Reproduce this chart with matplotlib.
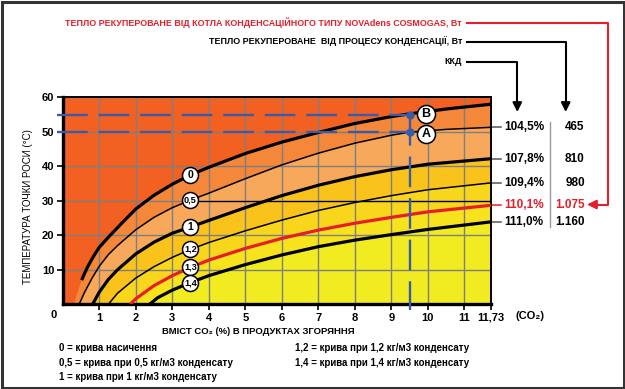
import numpy as np
import matplotlib.pyplot as plt
from matplotlib import font_manager
from matplotlib.patches import Rectangle

# ---------------------------------------------------------------------------
# Fonts: condensed face for the captions if there is one, plain sans otherwise
# ---------------------------------------------------------------------------
_names = {f.name for f in font_manager.fontManager.ttflist}
NARROW = next((n for n in ["Liberation Sans Narrow", "DejaVu Sans Condensed",
                           "Liberation Sans"] if n in _names), "DejaVu Sans")
SANS = "Liberation Sans" if "Liberation Sans" in _names else "DejaVu Sans"
plt.rcParams["font.family"] = [SANS, "DejaVu Sans"]
NARROW_F = [NARROW, "DejaVu Sans"]

# ---------------------------------------------------------------------------
# Data
# ---------------------------------------------------------------------------
CO2_MAX = 11.73
SAT_FOOT_X = 0.30          # saturation zone reaches the x axis here (fill only)

curve_names = ["0", "0,5", "1", "1,2", "1,3", "1,4"]

x_c0 = [0.52, 0.6, 0.7, 0.85, 1.0, 1.3, 1.6, 2.0, 2.5, 3.0, 3.5, 4.0, 5.0, 6.0, 7.0, 8.0, 9.0, 9.5, 10.5, 11.73]
y_c0 = [7.0, 9.0, 11.2, 14.0, 16.5, 20.0, 23.3, 27.6, 31.6, 34.8, 37.5, 39.7, 43.7, 47.0, 49.8, 52.4, 54.4, 55.2, 56.6, 58.0]

x_c05 = [0.45, 0.6, 0.8, 1.0, 1.25, 1.5, 2.0, 2.5, 3.0, 3.5, 4.0, 5.0, 6.0, 7.0, 8.0, 9.0, 9.5, 10.5, 11.73]
y_c05 = [0.0, 3.5, 7.5, 11.0, 14.4, 17.0, 21.6, 25.2, 28.0, 30.2, 32.2, 36.4, 40.4, 43.8, 46.7, 49.0, 49.9, 50.7, 51.3]

x_c1 = [0.82, 1.0, 1.25, 1.5, 2.0, 2.5, 3.0, 3.5, 4.0, 5.0, 6.0, 7.0, 8.0, 9.0, 10.0, 11.73]
y_c1 = [0.0, 3.5, 7.2, 10.0, 14.6, 18.0, 20.6, 22.4, 24.3, 28.0, 31.5, 34.5, 37.0, 39.0, 40.6, 42.2]

x_c12 = [1.25, 1.5, 2.0, 2.5, 3.0, 3.5, 4.0, 5.0, 6.0, 7.0, 8.0, 9.0, 10.0, 11.73]
y_c12 = [0.0, 3.2, 7.6, 10.9, 13.6, 15.9, 17.9, 21.3, 24.4, 27.2, 29.5, 31.5, 33.2, 35.2]

x_c13 = [1.85, 2.0, 2.5, 3.0, 3.5, 4.0, 5.0, 6.0, 7.0, 8.0, 9.0, 10.0, 11.73]
y_c13 = [0.0, 1.6, 5.4, 8.3, 10.7, 12.8, 16.2, 19.1, 21.5, 23.5, 25.2, 26.8, 28.7]

x_c14 = [2.38, 2.6, 3.0, 3.5, 4.0, 5.0, 6.0, 7.0, 8.0, 9.0, 10.0, 11.73]
y_c14 = [0.0, 1.9, 4.1, 6.3, 8.3, 11.5, 14.3, 16.7, 18.6, 20.2, 21.7, 23.9]

kkd = ["104,5%", "107,8%", "109,4%", "110,1%", "111,0%"]
heat_w = ["465", "810", "980", "1.075", "1.160"]

point_co2 = 9.5
point_a = 50
point_b = 55

x_ticks = [1, 2, 3, 4, 5, 6, 7, 8, 9, 10, 11, 11.73]
x_ticklabels = ["1", "2", "3", "4", "5", "6", "7", "8", "9", "10", "11", "11,73"]
y_ticks = [10, 20, 30, 40, 50, 60]

legend_left = ["0 = крива насичення",
               "0,5 = крива при 0,5 кг/м3 конденсату",
               "1 = крива при 1 кг/м3 конденсату"]
legend_right = ["1,2 = крива при 1,2 кг/м3 конденсату",
                "1,4 = крива при 1,4 кг/м3 конденсату"]

# ---------------------------------------------------------------------------
# Styles
# ---------------------------------------------------------------------------
RED = "#E41E2B"
BLUE = "#3A5BA8"
zone_colors = ["#F5873A", "#F7A85A", "#F9C31B", "#F8D61B", "#F6E21D", "#F0EC21"]
TOP_COLOR = "#F26122"
curve_lw = [2.3, 1.1, 2.3, 1.1, 2.3, 2.3]
curve_col = ["black", "black", "black", "black", RED, "black"]

curves = [(x_c0, y_c0), (x_c05, y_c05), (x_c1, y_c1),
          (x_c12, y_c12), (x_c13, y_c13), (x_c14, y_c14)]

fig = plt.figure(figsize=(6.25, 3.89), dpi=100)
ax = fig.add_axes([0.1003, 0.2177, 0.6853, 0.5322])
ax.set_xlim(0, CO2_MAX)
ax.set_ylim(0, 60)
ax.set_facecolor(TOP_COLOR)

# coloured zones: each zone fills everything below its curve
for i, (xs, ys) in enumerate(curves):
    fx = list(xs) + [CO2_MAX]
    fy = list(ys) + [0]
    if i == 0:
        fx = [SAT_FOOT_X] + fx
        fy = [0] + fy
    ax.fill(fx, fy, color=zone_colors[i], lw=0, zorder=1)

ax.set_axisbelow("line")
ax.grid(True, color="#7F7F7F", lw=1.0)

# curves
for (xs, ys), lw, col in zip(curves, curve_lw, curve_col):
    ax.plot(xs, ys, color=col, lw=lw, solid_capstyle="butt",
            solid_joinstyle="round", zorder=3)

# thin reference line at 30 °C
ax.plot([3.5, CO2_MAX], [30, 30], color="black", lw=0.9, zorder=3)

# curve labels
for (xs, ys), name in zip(curves, curve_names):
    yl = np.interp(3.5, xs, ys)
    ax.plot(3.5, yl, "o", ms=11.5, mfc="white", mec="black", mew=1.1, zorder=6)
    ax.text(3.5, yl, name, ha="center", va="center", fontsize=6.6 if "," in name else 7.5,
            fontweight="bold", family=NARROW_F, zorder=7)

# dashed construction lines A / B
dash = (0, (13, 4.6))
for yv in (point_b, point_a):
    ax.plot([-0.15, point_co2], [yv, yv], color=BLUE, lw=1.7, ls=dash,
            clip_on=False, zorder=4)
ax.plot([point_co2, point_co2], [point_b, -1.7], color=BLUE, lw=1.7, ls=dash,
        clip_on=False, zorder=4)
ax.plot([point_co2, point_co2], [point_b, point_a], "o", color=BLUE, ms=5, zorder=5)
for yv, lab in ((point_b + 0.3, "B"), (point_a - 0.6, "A")):
    ax.plot(point_co2 + 0.45, yv, "o", ms=13, mfc="white", mec="black", mew=1.1, zorder=6)
    ax.text(point_co2 + 0.45, yv, lab, ha="center", va="center", fontsize=9,
            fontweight="bold", zorder=7)

# right-hand value table
ends = [c[1][-1] for c in curves[1:]]
for i, (yv, k, h) in enumerate(zip(ends, kkd, heat_w)):
    col = RED if i == 3 else "black"
    ax.plot([CO2_MAX, 12.0], [yv, yv], color=RED if i == 3 else "#555555", lw=1.1,
            clip_on=False)
    ax.text(12.08, yv, k, ha="left", va="center", fontsize=8.5, fontweight="bold",
            color=col, clip_on=False)
    ax.text(14.30, yv, h, ha="right", va="center", fontsize=8.5, fontweight="bold",
            color=col, clip_on=False)
ax.plot([13.34, 13.34], [52.9, 22.5], color="#999999", lw=1.0, clip_on=False)

# axes styling
for side in ("left", "bottom"):
    ax.spines[side].set_linewidth(2.4)
for side in ("top", "right"):
    ax.spines[side].set_linewidth(1.4)
ax.set_xticks(x_ticks, x_ticklabels, fontsize=8, fontweight="bold")
ax.set_yticks(y_ticks, [str(v) for v in y_ticks], fontsize=8, fontweight="bold")
ax.tick_params(direction="out", length=4, width=1.2, pad=2)

ax.set_xlabel("ВМІСТ CO₂ (%) В ПРОДУКТАХ ЗГОРЯННЯ", fontsize=6.8, fontweight="bold",
              family=NARROW_F, va="center")
ax.xaxis.set_label_coords(0.456, -0.129)
ax.set_ylabel("ТЕМПЕРАТУРА ТОЧКИ РОСИ (°C)", fontsize=7.0, family=NARROW_F, va="center")
ax.yaxis.set_label_coords(-0.081, 0.47)

# ---------------------------------------------------------------------------
# Overlay in pixel coordinates: headers, leader arrows, legend, frame
# ---------------------------------------------------------------------------
ov = fig.add_axes([0, 0, 1, 1], zorder=5)
ov.set_xlim(0, 625)
ov.set_ylim(389, 0)
ov.axis("off")
ov.patch.set_alpha(0)

hdr = dict(ha="right", va="center", fontsize=6.4, fontweight="bold", family=NARROW_F)
ov.text(462, 22.5, "ТЕПЛО РЕКУПЕРОВАНЕ ВІД КОТЛА КОНДЕНСАЦІЙНОГО ТИПУ NOVAdens COSMOGAS, Вт",
        color=RED, **hdr)
ov.text(462, 41.5, "ТЕПЛО РЕКУПЕРОВАНЕ  ВІД ПРОЦЕСУ КОНДЕНСАЦІЇ, Вт", color="black", **hdr)
ov.text(462, 61.5, "ККД", color="black", **hdr)

arrow = dict(arrowstyle="-|>,head_length=0.6,head_width=0.3", shrinkA=0, shrinkB=0,
             mutation_scale=9)
ov.plot([467, 517.3, 517.3], [61.5, 61.5, 104], color="black", lw=1.5)
ov.annotate("", xy=(517.3, 112), xytext=(517.3, 103),
            arrowprops=dict(color="black", lw=1.5, **arrow))
ov.plot([467, 565.7, 565.7], [41.5, 41.5, 104], color="black", lw=1.5)
ov.annotate("", xy=(565.7, 112), xytext=(565.7, 103),
            arrowprops=dict(color="black", lw=1.5, **arrow))
ov.plot([467, 608.3, 608.3, 596], [22.5, 22.5, 204.5, 204.5], color=RED, lw=1.5)
ov.annotate("", xy=(587, 204.5), xytext=(597, 204.5),
            arrowprops=dict(color=RED, lw=1.5, **arrow))

ov.text(54, 315, "0", ha="center", va="center", fontsize=8, fontweight="bold")
ov.text(530, 316, "(CO₂)", ha="center", va="center", fontsize=8, fontweight="bold")

leg = dict(ha="left", va="center", fontsize=7, fontweight="bold", family=NARROW_F)
for j, t in enumerate(legend_left):
    ov.text(59, 348 + 14.5 * j, t, **leg)
for j, t in enumerate(legend_right):
    ov.text(295, 348 + 14.5 * j, t, **leg)

ov.add_patch(Rectangle((1.5, 1.5), 622, 386, fill=False, ec="#333333", lw=2.2))

fig.savefig("out.png", dpi=100)
